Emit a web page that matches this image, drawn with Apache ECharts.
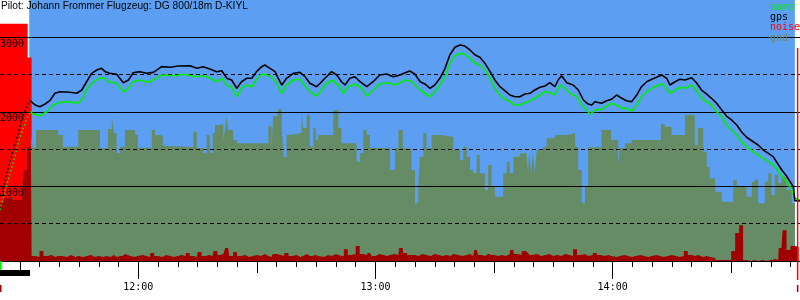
<!DOCTYPE html>
<html><head><meta charset="utf-8">
<script src="https://cdn.jsdelivr.net/npm/echarts@6/dist/echarts.min.js"></script>
<style>html,body{margin:0;padding:0;background:#fff}#c{width:800px;height:300px}</style>
</head><body><div id="c"></div>
<script>
// ---- data (times: minutes after 11:25, altitudes: m) ----
const T0 = 685; // 11:25 as minutes after midnight
const ALT_MAX = 3500, NOISE_MAX = 1100;
const titleText = 'Pilot: Johann Frommer Flugzeug: DG 800/18m D-KIYL';
const legendNames = ['baro', 'gps', 'noise', 'gnd'];
const hourTicks = [720, 780, 840];
const hourLabels = ['12:00', '13:00', '14:00'];
const halfHourTicks = [690, 750, 810, 870];
const skySpan = [7.4, 201.1];
const engineRun = [0, 7.6];
const startMarker = 0, endMarker = 201.8;

const gpsClimb = [[0,872],[0.8,975],[2.5,1332],[4.2,1645],[5.9,1958],[7.2,2128],[7.6,2150]];
const baroClimb = [[0,684],[1.7,1019],[3.4,1332],[5.1,1667],[6.8,1914],[7.8,2012]];

const gpsTrack = [[7.6,2150],[8.9,2092],[10.1,2069],[11.4,2105],[12.6,2150],[13.9,2249],[15.2,2270],[17.7,2262],[19.4,2249],[20.7,2293],[21.9,2404],[23.2,2517],[24.5,2561],[25.7,2584],[26.6,2539],[27.8,2517],[29.5,2504],[31.2,2391],[32.5,2427],[33.7,2525],[35.4,2539],[37.1,2517],[38.8,2530],[40.9,2606],[43.0,2598],[45.1,2615],[48.1,2619],[49.8,2584],[51.4,2606],[53.1,2575],[54.8,2539],[56.1,2552],[57.4,2450],[58.6,2427],[59.9,2316],[61.1,2404],[62.4,2450],[63.7,2450],[64.9,2539],[66.2,2606],[67.0,2628],[68.3,2584],[69.6,2539],[70.4,2450],[71.3,2360],[72.5,2450],[74.2,2517],[75.9,2530],[77.2,2471],[78.4,2383],[80.1,2337],[81.0,2383],[82.2,2450],[83.9,2539],[85.2,2494],[86.4,2404],[87.3,2360],[88.5,2450],[89.8,2471],[91.1,2404],[92.8,2337],[94.4,2404],[96.1,2494],[97.8,2508],[99.5,2471],[101.2,2494],[102.5,2525],[103.7,2548],[105.0,2504],[106.3,2404],[107.5,2374],[108.8,2316],[110.0,2360],[111.3,2450],[112.6,2584],[113.8,2762],[115.1,2866],[116.4,2897],[117.6,2883],[118.9,2830],[120.2,2762],[121.4,2732],[122.7,2651],[124.0,2539],[125.2,2427],[126.5,2337],[127.8,2280],[129.0,2226],[130.3,2203],[131.5,2203],[132.8,2239],[134.1,2249],[135.3,2293],[136.6,2329],[137.9,2347],[139.1,2391],[140.4,2337],[141.2,2427],[142.1,2485],[143.4,2391],[145.0,2360],[146.3,2293],[147.6,2159],[148.8,2105],[149.7,2092],[150.5,2136],[152.2,2115],[153.5,2150],[154.7,2168],[156.0,2226],[157.3,2182],[158.5,2150],[159.8,2136],[161.1,2226],[162.3,2337],[163.6,2404],[164.9,2437],[166.1,2463],[167.4,2494],[168.7,2450],[169.5,2360],[170.8,2404],[172.0,2437],[173.3,2427],[175.0,2458],[176.2,2391],[177.5,2293],[178.8,2239],[180.0,2182],[181.3,2115],[182.6,2025],[183.8,1944],[185.1,1891],[186.4,1824],[187.6,1734],[188.9,1659],[190.2,1613],[191.8,1556],[193.1,1489],[194.4,1444],[195.6,1399],[196.7,1310],[197.8,1220],[199.0,1140],[199.9,1063],[200.7,996],[201.1,809],[202.4,805]];

const baroTrack = [[7.8,2012],[8.0,1981],[10.1,1944],[11.8,2002],[13.5,2092],[15.2,2128],[17.7,2136],[19.4,2115],[20.7,2159],[21.9,2293],[23.2,2383],[24.9,2450],[26.1,2458],[27.4,2404],[29.5,2383],[31.2,2270],[32.5,2316],[33.7,2404],[35.4,2427],[37.5,2396],[39.6,2450],[40.9,2494],[43.8,2485],[47.2,2504],[48.9,2471],[51.4,2485],[53.1,2454],[54.8,2404],[56.1,2450],[57.4,2360],[58.6,2329],[59.9,2203],[61.1,2316],[62.4,2360],[63.7,2337],[64.9,2437],[66.2,2508],[67.5,2494],[68.7,2471],[70.0,2383],[71.3,2249],[72.5,2360],[74.2,2427],[75.9,2437],[77.6,2316],[78.9,2249],[80.1,2213],[81.0,2270],[82.2,2360],[83.9,2427],[85.6,2360],[86.9,2249],[88.1,2337],[89.8,2374],[91.5,2316],[92.8,2213],[94.4,2293],[96.1,2374],[98.2,2391],[99.9,2360],[101.6,2400],[102.5,2427],[103.7,2418],[105.0,2360],[106.3,2293],[107.5,2249],[108.8,2203],[110.0,2270],[111.3,2360],[112.6,2471],[113.8,2651],[115.1,2749],[116.4,2785],[117.6,2776],[118.9,2718],[120.2,2651],[121.4,2628],[122.7,2561],[124.0,2450],[125.2,2316],[126.5,2226],[127.8,2168],[129.0,2136],[130.3,2092],[131.5,2092],[132.8,2123],[134.1,2150],[135.3,2182],[136.6,2226],[137.9,2270],[139.1,2257],[140.4,2226],[141.7,2360],[142.9,2316],[144.2,2249],[145.9,2203],[147.2,2092],[148.4,2025],[149.3,1967],[150.5,2025],[152.2,2034],[153.5,2079],[154.7,2115],[156.0,2092],[157.3,2048],[158.5,2048],[159.8,2012],[161.1,2092],[162.3,2203],[163.6,2270],[164.9,2316],[166.1,2347],[167.4,2374],[168.2,2337],[169.5,2249],[170.8,2293],[172.0,2329],[173.3,2316],[175.0,2360],[176.2,2293],[177.5,2182],[178.8,2136],[180.0,2092],[181.3,2002],[182.6,1935],[183.8,1824],[185.1,1757],[186.4,1690],[187.6,1600],[188.9,1533],[190.2,1479],[191.8,1421],[193.1,1377],[194.4,1332],[195.6,1287],[196.7,1220],[197.8,1130],[199.0,1063],[200.3,952],[201.1,841],[201.6,818],[202.4,818]];

// ground elevation, step changes [minute, m]
const groundSteps = [[0,778],[0.8,845],[2.5,858],[3.3,818],[5.6,858],[5.9,1220],[6.8,1533],[7.8,1690],[8.3,1515],[9.1,1757],[14.7,1690],[15.9,1533],[19.8,1757],[25.3,1511],[27.3,1770],[28.3,1944],[28.8,1716],[29.5,1444],[30.4,1533],[31.6,1757],[34.2,1690],[34.9,1519],[38.4,1757],[39.2,1690],[40.5,1676],[41.2,1542],[42.2,1529],[48.9,1734],[49.8,1515],[51.4,1448],[52.3,1690],[53.1,1448],[53.8,1716],[54.4,1824],[55.7,1837],[56.5,1623],[56.9,1757],[57.3,1944],[57.7,1757],[59.0,1623],[59.9,1578],[67.9,1810],[68.7,1515],[69.1,1944],[70.0,1891],[70.4,2038],[71.3,1734],[71.8,1399],[72.5,1690],[73.4,1716],[76.3,2002],[76.7,1784],[77.6,1958],[78.4,1533],[79.3,1784],[79.9,1623],[80.5,1690],[84.3,2025],[85.6,1784],[86.4,1578],[90.2,1332],[91.1,1448],[91.9,1757],[92.8,1690],[93.6,1515],[98.7,1220],[99.9,1515],[100.8,1757],[101.9,1511],[104.1,1220],[105.0,774],[105.8,952],[106.2,1399],[107.1,1712],[107.9,1511],[109.2,1690],[111.3,1667],[114.7,1489],[116.4,1354],[117.2,1533],[118.1,1399],[118.9,1220],[119.7,1180],[120.6,1421],[121.4,1176],[122.7,952],[123.5,1287],[124.4,996],[125.2,862],[127.3,1176],[128.2,1332],[129.0,1176],[129.9,1399],[131.5,1444],[133.2,1466],[133.6,1180],[133.9,1466],[134.4,1180],[134.8,1466],[135.3,1180],[135.8,1489],[137.4,1533],[138.3,1645],[140.4,1690],[143.4,1712],[145.5,1533],[146.3,1220],[147.2,774],[148.0,996],[148.8,1525],[152.2,1757],[154.6,1623],[156.4,1287],[156.8,1511],[158.1,1578],[159.8,1623],[167.2,1837],[168.2,1801],[169.9,1690],[173.3,1958],[175.8,1556],[176.6,1784],[177.9,1466],[178.8,1265],[179.6,1109],[180.9,929],[182.6,795],[185.5,1086],[186.4,996],[188.9,862],[190.2,1063],[191.0,1096],[191.8,774],[193.5,1063],[194.4,1176],[195.2,885],[196.0,1153],[196.9,1042],[197.7,1130],[199.0,952],[200.3,774]];
const groundEnd = 201.1;

// noise level per minute bin starting at 11:25 (0..1100 scale)
const noiseLevel = [
1000,1000,1000,1000,1000,1000,1000,858,21,17,
42,21,25,17,21,21,17,25,17,21,
17,21,25,17,21,17,21,17,25,17,
21,29,21,17,21,25,21,17,34,21,
17,25,21,17,21,25,21,34,21,17,
38,21,25,21,42,25,29,55,21,38,
21,25,17,21,25,21,29,21,17,29,
25,21,34,21,25,17,21,29,21,25,
21,17,25,21,29,25,21,50,25,29,
63,29,25,34,21,29,25,21,25,29,
25,55,34,25,25,21,29,25,21,29,
25,21,25,21,29,25,21,25,29,21,
46,25,21,29,25,21,25,21,29,46,
29,25,42,34,25,29,21,25,29,21,
25,21,29,25,21,50,25,29,21,25,
34,25,21,25,21,17,21,25,21,17,
21,25,21,17,21,25,21,17,21,25,
21,17,21,42,25,21,25,17,21,17,
13,4,4,4,4,42,118,151,4,0,
4,0,4,0,4,8,4,55,130,46,
63,59];

// ---- colors ----
const C = { sky:'#5c9ff2', gnd:'#658c64', gndText:'#6e8a62', red:'#ff0000', dark:'#a00000', baro:'#00ee00', gps:'#000000' };

// ---- derived series ----
const abs = p => [T0 + p[0], p[1]];
const noiseSteps = noiseLevel.map((n, i) => [i, n]);
noiseSteps.push([noiseLevel.length, noiseLevel[noiseLevel.length - 1]]);
const gndData = groundSteps.map(abs);
gndData.push([T0 + groundEnd, groundSteps[groundSteps.length - 1][1]]);
function stepAt(steps, t) { let v = steps[0][1]; for (const s of steps) { if (s[0] <= t) v = s[1]; else break; } return v; }
const breaks = Array.from(new Set(noiseSteps.map(s => s[0]).concat(groundSteps.map(s => s[0])))).sort((a, b) => a - b);
const lowNoise = breaks.map(t => [T0 + t, Math.min(stepAt(noiseSteps, t), stepAt(groundSteps, t) * NOISE_MAX / ALT_MAX)]);

const fiveMinTicks = [];
for (let t = T0; t <= T0 + 202; t += 5) fiveMinTicks.push(t);

const monoFont = '"DejaVu Sans Mono", monospace';
const chart = echarts.init(document.getElementById('c'), null, { renderer: 'canvas' });
const xBase = { type: 'value', min: T0, max: T0 + 202.4, position: 'bottom', splitLine: { show: false } };
chart.setOption({
  animation: false,
  backgroundColor: '#fff',
  grid: { left: 0, right: 0, top: 0, bottom: 39, containLabel: false, outerBoundsMode: 'none' },
  xAxis: [
    Object.assign({}, xBase, { z: 20, axisLine: { show: true, onZero: false, lineStyle: { color: '#000', width: 1 } },
      axisTick: { show: true, customValues: fiveMinTicks, length: 6, lineStyle: { color: '#000' } }, axisLabel: { show: false } }),
    Object.assign({}, xBase, { z: 20, axisLine: { show: false, onZero: false },
      axisTick: { show: true, customValues: halfHourTicks, length: 12, lineStyle: { color: '#000' } }, axisLabel: { show: false } }),
    Object.assign({}, xBase, { z: 20, axisLine: { show: false, onZero: false },
      axisTick: { show: true, customValues: hourTicks, length: 18, lineStyle: { color: '#000' } },
      axisLabel: { show: true, customValues: hourTicks, margin: 21, color: '#000', fontSize: 10, fontFamily: monoFont,
        formatter: v => hourLabels[hourTicks.indexOf(v)] || '' } })
  ],
  yAxis: [
    { type: 'value', min: 0, max: ALT_MAX, interval: 1000, z: 20, axisLine: { show: false }, axisTick: { show: false }, splitLine: { show: false },
      axisLabel: { inside: true, margin: 0, align: 'left', verticalAlign: 'top', padding: [2, 0, 0, 0], color: '#000', fontSize: 10, fontFamily: monoFont,
        formatter: v => (v > 0 && v <= 3000) ? String(v) : '' } },
    { type: 'value', min: 0, max: NOISE_MAX, show: false }
  ],
  series: [
    { name: 'sky', type: 'line', z: 1, silent: true, symbol: 'none', lineStyle: { width: 0 },
      areaStyle: { color: C.sky, opacity: 1 }, data: [[T0 + skySpan[0], ALT_MAX], [T0 + skySpan[1], ALT_MAX]] },
    { name: 'noise', type: 'line', z: 2, yAxisIndex: 1, step: 'end', symbol: 'none', silent: true,
      lineStyle: { width: 0 }, areaStyle: { color: C.red, opacity: 1 }, data: noiseSteps.map(abs) },
    { name: 'gnd', type: 'line', z: 3, step: 'end', symbol: 'none', silent: true,
      lineStyle: { width: 0 }, areaStyle: { color: C.gnd, opacity: 1 }, data: gndData },
    { name: 'noiseLow', type: 'line', z: 4, yAxisIndex: 1, step: 'end', symbol: 'none', silent: true,
      lineStyle: { width: 0 }, areaStyle: { color: C.dark, opacity: 1 }, data: lowNoise },
    { name: 'baroClimb', type: 'line', z: 5, symbol: 'none', silent: true,
      lineStyle: { color: C.baro, width: 1.5, type: [1.5, 2.5] }, data: baroClimb.map(abs) },
    { name: 'gpsClimb', type: 'line', z: 5, symbol: 'none', silent: true,
      lineStyle: { color: C.gps, width: 1.5, type: [1.5, 2.5] }, data: gpsClimb.map(abs) },
    { name: 'baro', type: 'line', z: 6, symbol: 'none', silent: true,
      lineStyle: { color: C.baro, width: 1.6 }, data: baroTrack.map(abs) },
    { name: 'gps', type: 'line', z: 7, symbol: 'none', silent: true,
      lineStyle: { color: C.gps, width: 1.6 }, data: gpsTrack.map(abs),
      markLine: { silent: true, symbol: 'none', label: { show: false }, animation: false,
        data: [
          { yAxis: 1000, lineStyle: { color: '#000', width: 1, type: 'solid' } },
          { yAxis: 2000, lineStyle: { color: '#000', width: 1, type: 'solid' } },
          { yAxis: 3000, lineStyle: { color: '#000', width: 1, type: 'solid' } },
          { yAxis: 500, lineStyle: { color: '#000', width: 1, type: [4, 3] } },
          { yAxis: 1500, lineStyle: { color: '#000', width: 1, type: [4, 3] } },
          { yAxis: 2500, lineStyle: { color: '#000', width: 1, type: [4, 3] } }
        ] } }
  ]
});

// ---- overlay texts and markers ----
const px = t => chart.convertToPixel({ xAxisIndex: 0 }, T0 + t);
const legendColors = [C.baro, C.gps, C.red, C.gndText];
const legendY = [7, 17.4, 27.8, 38];
const graphics = [
  { type: 'text', x: 1, y: 6, z: 100, silent: true,
    style: { text: titleText, fill: '#000', fontSize: 10.2, fontFamily: '"Liberation Sans", Arial, sans-serif', verticalAlign: 'middle' } }
];
legendNames.forEach((n, i) => graphics.push({ type: 'text', x: 770, y: legendY[i], z: 100, silent: true,
  style: { text: n, fill: legendColors[i], fontSize: 10, fontFamily: monoFont, verticalAlign: 'middle' } }));
const e0 = px(engineRun[0]), e1 = px(engineRun[1]);
graphics.push({ type: 'rect', z: 100, silent: true, shape: { x: e0, y: 270, width: e1 - e0, height: 6 }, style: { fill: '#000' } });
const s0 = px(startMarker);
graphics.push({ type: 'rect', z: 100, silent: true, shape: { x: s0, y: 261, width: 1.5, height: 9 }, style: { fill: C.baro } });
graphics.push({ type: 'rect', z: 100, silent: true, shape: { x: s0, y: 285, width: 1.5, height: 7 }, style: { fill: C.dark } });
const m1 = px(endMarker);
graphics.push({ type: 'rect', z: 100, silent: true, shape: { x: m1 - 0.75, y: 48, width: 1.5, height: 232 }, style: { fill: C.red } });
graphics.push({ type: 'rect', z: 100, silent: true, shape: { x: m1 - 0.75, y: 285, width: 1.5, height: 7 }, style: { fill: C.dark } });
chart.setOption({ graphic: graphics });
</script>
</body></html>
